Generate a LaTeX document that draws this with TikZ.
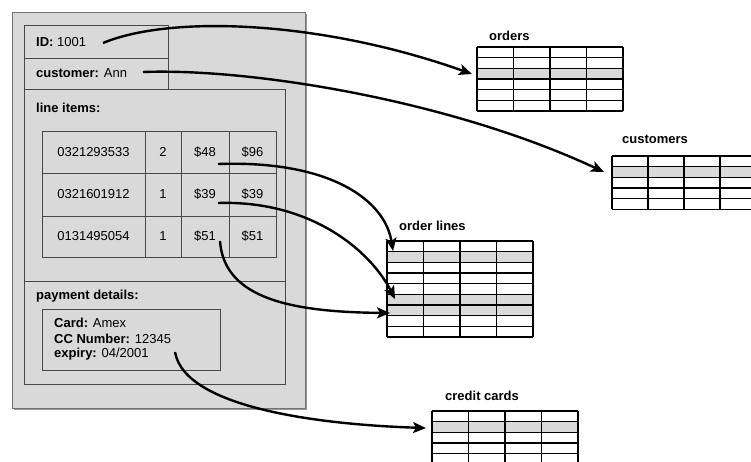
\documentclass[tikz,border=0pt]{standalone}
\usepackage{fontspec}
\setmainfont{Liberation Sans}
\usetikzlibrary{arrows.meta}
\newcommand\dbtab[8]{% name, x0, y0, ncols, nrows, cw, rh, grayrows
  \foreach \g in {#8} {\fill[grayrow] ({#2},{#3+(\g-1)*#7}) rectangle ({#2+#4*#6},{#3+\g*#7});}
  \foreach \r in {0,...,#5} {\draw[tabgrid] ({#2},{#3+\r*#7}) -- ({#2+#4*#6},{#3+\r*#7});}
  \foreach \c in {0,...,#4} {\draw[tabgrid] ({#2+\c*#6},{#3}) -- ({#2+\c*#6},{#3+#5*#7});}
  \node[anchor=north west, inner sep=0pt, minimum width={#4*#6*1pt}, minimum height={#5*#7*1pt}] (#1) at (#2,#3) {};
}
\begin{document}
\begin{tikzpicture}[x=1pt,y=-1pt,
  box/.style={draw=black!72, line width=0.9pt},
  lbl/.style={anchor=west, inner sep=0pt, font=\fontsize{13}{15}\selectfont},
  cell/.style={inner sep=0pt, font=\fontsize{13}{15}\selectfont},
  tlabel/.style={anchor=west, inner sep=0pt, font=\fontsize{13}{15}\selectfont\bfseries},
  link/.style={line width=2.4pt, -{Stealth[length=13pt,width=11pt,inset=3pt]}},
  tabgrid/.style={draw=black, line width=1.1pt},
  grayrow/.style={fill=black!15}]
\useasboundingbox (0,0) rectangle (751,461);
\fill[white] (0,0) rectangle (751,461);
% outer aggregate
\fill[black!40] (14,14) rectangle (307,410);
\draw[box, fill=black!15, draw=black!55] (12,12) rectangle (305,408);
\draw[box] (24,25) rectangle (168,58);
\draw[box] (24,58) rectangle (168,89);
\draw[box] (24,89) rectangle (285,281);
\draw[box] (24,281) rectangle (285,384);
% line item table
\draw[box] (42,131) rectangle (276,257);
\draw[box] (42,173) -- (276,173);
\draw[box] (42,216) -- (276,216);
\draw[box] (145,131) -- (145,257);
\draw[box] (181,131) -- (181,257);
\draw[box] (229,131) -- (229,257);
% card box
\draw[box] (42,309) rectangle (220,370);
% texts
\node[lbl] (id) at (36,42) {\textbf{ID:} 1001};
\node[lbl] (cust) at (36,73) {\textbf{customer:} Ann};
\node[lbl] (li) at (36,108) {\textbf{line items:}};
\node[cell] (r1a) at (93.5,152) {0321293533};
\node[cell] (r1b) at (163,152) {2};
\node[cell] (r1c) at (205,152) {\$48};
\node[cell] (r1d) at (252.5,152) {\$96};
\node[cell] (r2a) at (93.5,194.5) {0321601912};
\node[cell] (r2b) at (163,194.5) {1};
\node[cell] (r2c) at (205,194.5) {\$39};
\node[cell] (r2d) at (252.5,194.5) {\$39};
\node[cell] (r3a) at (93.5,236.5) {0131495054};
\node[cell] (r3b) at (163,236.5) {1};
\node[cell] (r3c) at (205,236.5) {\$51};
\node[cell] (r3d) at (252.5,236.5) {\$51};
\node[lbl] (pd) at (36,296) {\textbf{payment details:}};
\node[lbl] (card) at (54,323) {\textbf{Card:} Amex};
\node[lbl] (ccn) at (54,339) {\textbf{CC Number:} 12345};
\node[lbl] (exp) at (54,354) {\textbf{expiry:} 04/2001};
% tables
\dbtab{orders}{477}{47}{4}{6}{36.5}{10.67}{3}
\node[tlabel] (ordersl) at (489,36) {orders};
\dbtab{customers}{612}{156}{4}{5}{36}{10.67}{2}
\node[tlabel] (customersl) at (622,139) {customers};
\dbtab{orderlines}{387}{241}{4}{9}{36.5}{10.67}{2,6,7}
\node[tlabel] (orderlinesl) at (399,226) {order lines};
\dbtab{cards}{432}{411}{4}{5}{36.5}{10.67}{2}
\node[tlabel] (cardsl) at (445,396) {credit cards};
% connector end points
\coordinate (s1) at (103,43);
\coordinate (t1) at (472,74);
\coordinate (s2) at (143,72);
\coordinate (t2) at (604,172);
\coordinate (s3) at (218,164);
\coordinate (t3) at (393,251);
\coordinate (s4) at (218,203);
\coordinate (t4) at (395,299);
\coordinate (s5) at (220,241);
\coordinate (t5) at (390,313);
\coordinate (s6) at (175,352);
\coordinate (t6) at (426,428);
\draw[link] (s1) .. controls (170,15) and (320,20) .. (t1);
\draw[link] (s2) .. controls (250,68) and (450,100) .. (t2);
\draw[link] (s3) .. controls (330,160) and (385,200) .. (t3);
\draw[link] (s4) .. controls (310,200) and (370,250) .. (t4);
\draw[link] (s5) .. controls (224,300) and (295,312) .. (t5);
\draw[link] (s6) .. controls (185,410) and (330,425) .. (t6);
\end{tikzpicture}
\end{document}
